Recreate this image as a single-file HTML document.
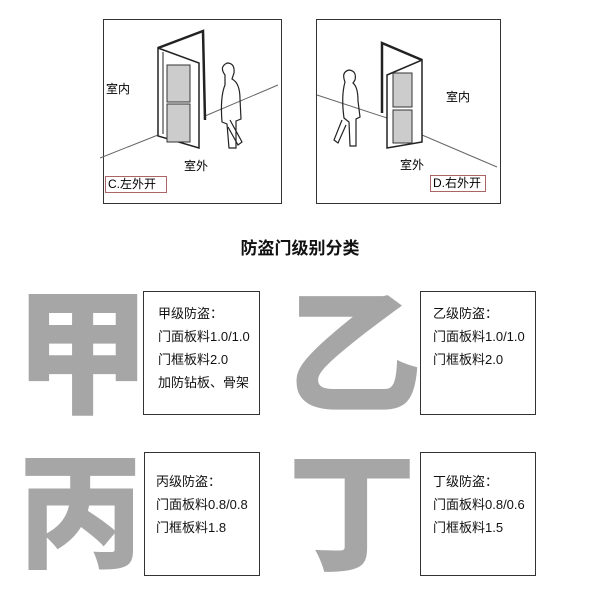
<!DOCTYPE html>
<html><head><meta charset="utf-8"><style>
body{margin:0;background:#fff;width:600px;height:600px;position:relative;overflow:hidden;font-family:"Liberation Sans","Noto Sans CJK SC",sans-serif;}
.a{position:absolute;}
.box{position:absolute;border:1px solid #333;background:#fff;box-sizing:border-box;font-size:13px;line-height:23px;color:#111;}
.big{position:absolute;font-family:"Noto Sans CJK SC",sans-serif;font-weight:900;color:#a6a6a6;line-height:1;}
</style></head><body>
<svg class="a" style="left:0;top:0" width="600" height="240" fill="none" stroke="#222" stroke-width="1">
<rect x="103.5" y="19.5" width="178" height="184" stroke="#333"/>
<rect x="316.5" y="19.5" width="184" height="184" stroke="#333"/>
<line x1="100" y1="158" x2="158" y2="135" stroke="#666"/>
<line x1="205" y1="116" x2="278" y2="85" stroke="#666"/>
<path d="M158 48 L203 31 L205 120" stroke-width="2.5"/>
<path d="M158 48 L199 63 L199 148 L158 136 Z" stroke-width="1.5"/>
<path d="M163 52 L163 134" />
<rect x="167" y="65" width="23" height="37" fill="#ccc" stroke="#333"/>
<rect x="167" y="104" width="23" height="38" fill="#ccc" stroke="#333"/>
<path d="M225 75 q-6 -8 2 -12 q8 0 7 10 l-2 6 q8 4 8 20 l1 20 l-5 2 l0 27 l-7 0 l-2 -24 l-5 -2 q-2 -25 3 -37 z" stroke-width="1.2"/>
<path d="M230 120 l12 22 l-4 3 l-10 -18" stroke-width="1.2"/>
<line x1="317" y1="95" x2="387" y2="118" stroke="#666"/>
<line x1="422" y1="135" x2="497" y2="167" stroke="#666"/>
<path d="M382 113 L382 43 L422 60" stroke-width="2.5"/>
<path d="M387 75 L422 60 L422 142 L387 148 Z" stroke-width="1.5"/>
<rect x="393" y="73" width="19" height="34" fill="#ccc" stroke="#333"/>
<rect x="393" y="110" width="19" height="33" fill="#ccc" stroke="#333"/>
<path d="M345 82 q-4 -10 4 -12 q8 1 6 10 l-2 3 q5 4 5 18 l2 16 l-4 2 l0 27 l-6 0 l-1 -24 l-5 -4 q-3 -22 1 -36 z" stroke-width="1.2"/>
<path d="M342 120 l-8 20 l4 3 l8 -18" stroke-width="1.2"/>
</svg>
<div class="a" style="left:106px;top:80px;font-size:12px">室内</div>
<div class="a" style="left:184px;top:157px;font-size:12px">室外</div>
<div class="a" style="left:105px;top:176px;width:62px;height:17px;border:1px solid #a66;box-sizing:border-box;font-size:12px;line-height:15px;padding-left:2px">C.左外开</div>
<div class="a" style="left:446px;top:88px;font-size:12px">室内</div>
<div class="a" style="left:400px;top:156px;font-size:12px">室外</div>
<div class="a" style="left:430px;top:175px;width:56px;height:17px;border:1px solid #a66;box-sizing:border-box;font-size:12px;line-height:15px;padding-left:2px">D.右外开</div>
<div class="a" style="left:0;width:600px;top:234px;text-align:center;font-size:17px;font-weight:bold;color:#111">防盗门级别分类</div>
<div class="big" style="left:14px;top:277px;font-size:136px">甲</div>
<div class="big" style="left:286px;top:277px;font-size:136px">乙</div>
<div class="big" style="left:18px;top:441px;font-size:125px">丙</div>
<div class="big" style="left:288px;top:441px;font-size:128px">丁</div>
<div class="box" style="left:143px;top:291px;width:117px;height:124px;padding:10px 0 0 14px">甲级防盗：<br>门面板料1.0/1.0<br>门框板料2.0<br>加防钻板、骨架</div>
<div class="box" style="left:420px;top:291px;width:116px;height:124px;padding:10px 0 0 12px">乙级防盗：<br>门面板料1.0/1.0<br>门框板料2.0</div>
<div class="box" style="left:144px;top:452px;width:116px;height:124px;padding:17px 0 0 11px">丙级防盗：<br>门面板料0.8/0.8<br>门框板料1.8</div>
<div class="box" style="left:420px;top:452px;width:116px;height:124px;padding:17px 0 0 12px">丁级防盗：<br>门面板料0.8/0.6<br>门框板料1.5</div>
</body></html>
